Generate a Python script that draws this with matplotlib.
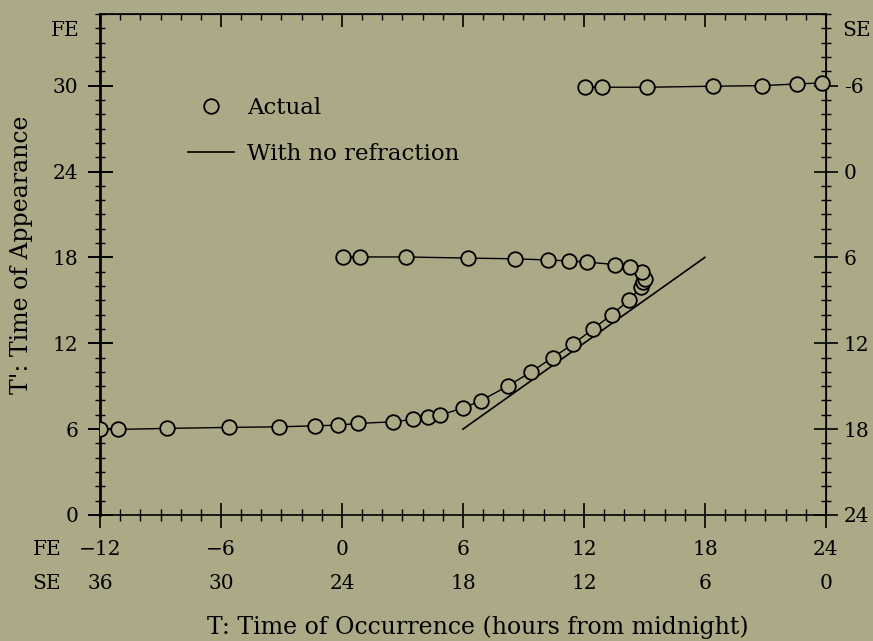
import matplotlib
matplotlib.use("Agg")
import matplotlib.pyplot as plt
from matplotlib.ticker import MultipleLocator, FuncFormatter

# Actual times: lower branch, fold, then back along the T' = 18 branch
t_main = [-12.0, -11.09, -8.68, -5.6, -3.12, -1.34, -0.18, 0.81, 2.54, 3.53,
          4.28, 4.86, 6.0, 6.88, 8.21, 9.36, 10.45, 11.47, 12.46, 13.37,
          14.24, 14.82, 14.94, 15.03, 14.86, 14.28, 13.55, 12.17, 11.28,
          10.2, 8.58, 6.26, 3.17, 0.89, 0.07]
tp_main = [5.98, 5.98, 6.05, 6.12, 6.16, 6.23, 6.28, 6.4, 6.51, 6.68,
           6.86, 6.98, 7.47, 7.98, 9.0, 9.98, 11.0, 11.95, 13.0, 14.0,
           15.0, 15.93, 16.28, 16.5, 16.98, 17.33, 17.49, 17.68, 17.75,
           17.82, 17.9, 17.95, 18.03, 18.03, 18.03]

# upper branch near T' = 30
t_top = [12.05, 12.88, 15.14, 18.38, 20.81, 22.58, 23.83]
tp_top = [29.89, 29.89, 29.89, 29.96, 30.0, 30.12, 30.19]

# no refraction: T' = T
t_line = [6, 18]
tp_line = [6, 18]

fe_ticks = [-12, -6, 0, 6, 12, 18, 24]
se_labels = ["36", "30", "24", "18", "12", "6", "0"]
fe_labels = ["\u221212", "\u22126", "0", "6", "12", "18", "24"]
y_ticks = [0, 6, 12, 18, 24, 30]
se_right = [-6, 0, 6, 12, 18, 24]

bg = "#aca986"
fs = 14.5

plt.rcParams['font.family'] = ['DejaVu Serif']
plt.rcParams['font.size'] = fs
plt.rcParams['axes.unicode_minus'] = False

fig = plt.figure(figsize=(8.73, 6.41), dpi=100, facecolor=bg)
ax = fig.add_axes([0.1146, 0.1966, 0.8314, 0.7814])
ax.set_facecolor(bg)

ax.plot(t_main, tp_main, '-', color='black', lw=1.0, zorder=2)
ax.plot(t_top, tp_top, '-', color='black', lw=1.0, zorder=2)
ax.plot(t_main, tp_main, 'o', ms=10.5, mfc=bg, mec='black', mew=1.3,
        label='Actual', zorder=3)
ax.plot(t_top, tp_top, 'o', ms=10.5, mfc=bg, mec='black', mew=1.3,
        zorder=3, clip_on=False)
ax.plot(t_line, tp_line, '-', color='black', lw=1.2, label='With no refraction')

ax.set_xlim(-12, 24)
ax.set_ylim(0, 35)

for side in ['left', 'right', 'top', 'bottom']:
    ax.spines[side].set_linewidth(1.2)
ax.spines['left'].set_linewidth(2.0)

# bottom axis: FE hours with SE hours underneath
ax.set_xticks(fe_ticks, labels=[f"{a}\n{b}" for a, b in zip(fe_labels, se_labels)])
for lbl in ax.get_xticklabels():
    lbl.set_linespacing(2.0)
ax.xaxis.set_minor_locator(MultipleLocator(1))
ax.tick_params(axis='x', which='major', direction='inout', length=18, width=1.2, pad=9)
ax.tick_params(axis='x', which='minor', direction='inout', length=8, width=1.0)

ax.set_yticks(y_ticks)
ax.yaxis.set_minor_locator(MultipleLocator(1))
ax.yaxis.set_minor_formatter(FuncFormatter(lambda v, p: "FE" if abs(v - 34) < 0.01 else ""))
ax.tick_params(axis='y', which='major', direction='inout', length=18, width=1.4, pad=6.5)
ax.tick_params(axis='y', which='minor', direction='inout', length=7, width=1.0, pad=11.5)

top = ax.secondary_xaxis('top')
top.set_xticks(fe_ticks, labels=[])
top.xaxis.set_minor_locator(MultipleLocator(1))
top.tick_params(which='major', direction='in', length=9, width=1.2)
top.tick_params(which='minor', direction='in', length=4, width=1.0)

right = ax.secondary_yaxis('right', functions=(lambda y: 24 - y, lambda s: 24 - s))
right.set_yticks(se_right)
right.yaxis.set_minor_locator(MultipleLocator(1))
right.yaxis.set_minor_formatter(FuncFormatter(lambda v, p: "SE" if abs(v + 10) < 0.01 else ""))
right.tick_params(which='major', direction='inout', length=17, width=1.2, pad=4.5)
right.tick_params(which='minor', direction='inout', length=7, width=1.0, pad=8.5)

ax.text(-0.073, -0.050, "FE\nSE", transform=ax.transAxes, ha='center', va='top',
        linespacing=2.0)

ax.set_xlabel("T: Time of Occurrence (hours from midnight)", fontsize=17)
ax.xaxis.set_label_coords(0.52, -0.2)
ax.set_ylabel("T': Time of Appearance", fontsize=17)
ax.yaxis.set_label_coords(-0.093, 0.52)

ax.legend(loc='upper left', bbox_to_anchor=(0.121, 0.835), frameon=False,
          borderpad=0, borderaxespad=0, handlelength=2.0, handletextpad=0.6,
          labelspacing=1.05, fontsize=16.5)

fig.savefig("out.png", dpi=100, facecolor=bg)
